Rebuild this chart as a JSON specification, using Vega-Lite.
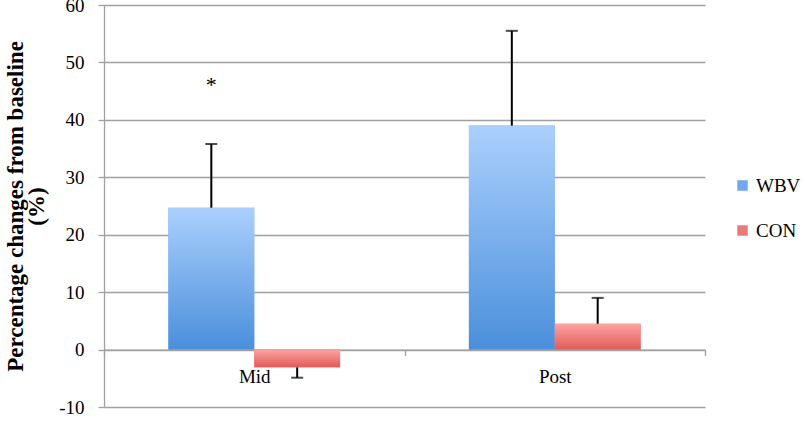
{
  "$schema": "https://vega.github.io/schema/vega-lite/v6.json",
  "width": 601,
  "height": 402,
  "autosize": {"type": "none"},
  "padding": {"left": 104, "top": 5, "right": 99, "bottom": 14},
  "background": "white",
  "config": {
    "view": {"stroke": null},
    "font": "Liberation Serif"
  },
  "data": {
    "values": [
      {"phase": "Mid", "group": "WBV", "value": 24.7, "err": 35.8},
      {"phase": "Mid", "group": "CON", "value": -3.1, "err": -4.9},
      {"phase": "Post", "group": "WBV", "value": 39.0, "err": 55.5},
      {"phase": "Post", "group": "CON", "value": 4.5, "err": 9.0}
    ]
  },
  "encoding": {
    "x": {
      "field": "phase", "type": "nominal",
      "scale": {"domain": ["Mid", "Post"], "paddingInner": 0, "paddingOuter": 0},
      "axis": {
        "title": null, "labelAngle": 0, "offset": -57.43,
        "tickBand": "extent", "tickSize": 6, "tickColor": "#a0a0a0", "tickWidth": 1.3,
        "domainColor": "#a0a0a0", "domainWidth": 1.3,
        "labelFont": "Liberation Serif", "labelFontSize": 19, "labelColor": "#000",
        "labelPadding": 12
      }
    },
    "xOffset": {
      "field": "group", "type": "nominal",
      "scale": {"domain": ["WBV", "CON"], "paddingInner": 0, "paddingOuter": 0.75}
    }
  },
  "layer": [
    {
      "mark": {"type": "bar"},
      "encoding": {
        "y": {
          "field": "value", "type": "quantitative",
          "scale": {"domain": [-10, 60], "nice": false},
          "axis": {
            "values": [-10, 0, 10, 20, 30, 40, 50, 60],
            "labelExpr": "datum.value + ''",
            "title": ["Percentage changes from baseline", "(%)"],
            "titleFont": "Liberation Serif", "titleFontSize": 23, "titleFontWeight": "bold",
            "titleColor": "#000", "titleLineHeight": 21, "titlePadding": 10,
            "labelFont": "Liberation Serif", "labelFontSize": 19, "labelColor": "#000",
            "labelPadding": 14, "tickSize": 6, "tickColor": "#a0a0a0", "tickWidth": 1.3,
            "domainColor": "#a0a0a0", "domainWidth": 1.3,
            "gridColor": "#a0a0a0", "gridWidth": 1.3
          }
        },
        "color": {
          "field": "group", "type": "nominal",
          "scale": {"domain": ["WBV", "CON"], "range": ["#6fa8ec", "#ea7a78"]},
          "legend": {
            "title": null, "orient": "none", "legendX": 629, "legendY": 171,
            "symbolType": "square", "symbolSize": 110, "symbolStrokeWidth": 0,
            "labelFont": "Liberation Serif", "labelFontSize": 19, "labelColor": "#000",
            "labelOffset": 4, "rowPadding": 25
          }
        }
      }
    },
    {
      "transform": [{"filter": "datum.group === 'WBV'"}],
      "mark": {
        "type": "bar",
        "fill": {
          "gradient": "linear", "x1": 0, "y1": 0, "x2": 0, "y2": 1,
          "stops": [{"offset": 0, "color": "#abd0fd"}, {"offset": 1, "color": "#4a8fdb"}]
        }
      },
      "encoding": {"y": {"field": "value", "type": "quantitative"}}
    },
    {
      "transform": [{"filter": "datum.group === 'CON'"}],
      "mark": {
        "type": "bar",
        "fill": {
          "gradient": "linear", "x1": 0, "y1": 0, "x2": 0, "y2": 1,
          "stops": [{"offset": 0, "color": "#fca4a3"}, {"offset": 1, "color": "#e05a57"}]
        }
      },
      "encoding": {"y": {"field": "value", "type": "quantitative"}}
    },
    {
      "mark": {"type": "rule", "color": "#000", "strokeWidth": 2},
      "encoding": {
        "y": {"field": "value", "type": "quantitative"},
        "y2": {"field": "err"}
      }
    },
    {
      "mark": {"type": "tick", "color": "#000", "thickness": 2, "size": 12},
      "encoding": {"y": {"field": "err", "type": "quantitative"}}
    },
    {
      "transform": [{"filter": "datum.phase === 'Mid' && datum.group === 'WBV'"}],
      "mark": {"type": "text", "text": "*", "fontSize": 22, "font": "Liberation Serif", "color": "#000", "baseline": "middle"},
      "encoding": {"y": {"datum": 46, "type": "quantitative"}}
    }
  ]
}
